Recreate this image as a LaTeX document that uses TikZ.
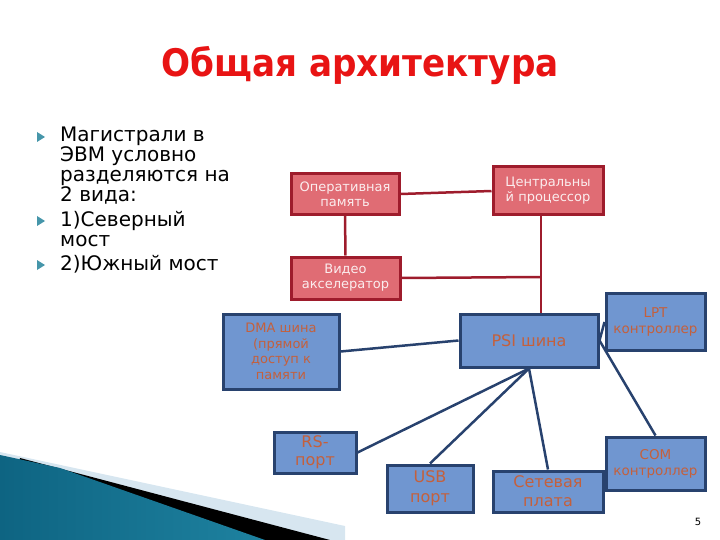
\documentclass[tikz,border=0pt]{standalone}
\usepackage{fontspec}
\setmainfont{DejaVu Sans}
\newfontfamily\titlefont[FakeStretch=0.9]{DejaVu Sans}
\definecolor{titlered}{RGB}{232,20,20}
\definecolor{redfill}{RGB}{224,108,116}
\definecolor{redline}{RGB}{158,28,44}
\definecolor{bluefill}{RGB}{112,150,208}
\definecolor{blueline}{RGB}{40,66,110}
\definecolor{boxtext}{RGB}{196,96,60}
\definecolor{bullet}{RGB}{70,150,170}
\definecolor{tealdark}{RGB}{14,100,130}
\definecolor{teallight}{RGB}{72,172,202}
\definecolor{tealmid}{RGB}{30,130,160}
\definecolor{palestripe}{RGB}{215,230,240}
\begin{document}
\begin{tikzpicture}[x=1pt,y=-1pt,
  redbox/.style={draw=redline,line width=3pt,fill=redfill,text=white!88!redfill,
    font=\fontsize{13}{15}\selectfont,align=center,inner sep=1pt},
  bluebox/.style={draw=blueline,line width=3pt,fill=bluefill,text=boxtext,
    align=center,inner sep=1pt},
  listtext/.style={anchor=base west,align=left,inner sep=0,font=\fontsize{20}{20}\selectfont},
  redlink/.style={draw=redline,line width=2.5pt},
  bluelink/.style={draw=blueline,line width=2.5pt}]
  \useasboundingbox (0,0) rectangle (720,540);
  % corner decoration
  \fill[palestripe] (0,452) -- (345,526) -- (345,540) -- (0,540) -- cycle;
  \fill[black] (20,458) -- (330,540) -- (0,540) -- cycle;
  \shade[left color=tealdark,middle color=teallight,right color=tealmid]
    (0,455) -- (60,468) -- (265,540) -- (0,540) -- cycle;
  % title and list
  \node[font=\titlefont\bfseries\fontsize{38}{44}\selectfont,text=titlered,anchor=base] (title) at (360,77) {Общая архитектура};
  \foreach \y in {137,221,265}
    \fill[bullet] (37,\y-5) -- (45,\y) -- (37,\y+5) -- cycle;
  \node[listtext] (item1) at (60,201.7) {Магистрали в\\ЭВМ условно\\разделяются на\\2 вида:};
  \node[listtext] (item2) at (60,246.7) {1)Северный\\мост};
  \node[listtext] (item3) at (60,270.7) {2)Южный мост};
  % north bridge
  \node[redbox,minimum width=108pt,minimum height=41pt] (ram) at (345,194) {Оперативная\\память};
  \node[redbox,minimum width=110pt,minimum height=48pt] (cpu) at (548,191) {Центральны\\й процессор};
  \node[redbox,minimum width=109pt,minimum height=42pt] (video) at (345.5,278) {Видео\\акселератор};
  \coordinate (bus) at (541,277);
  % south bridge
  \node[bluebox,minimum width=116pt,minimum height=75pt,font=\fontsize{13}{15.5}\selectfont] (dma) at (281,351.5)
    {DMA шина\\(прямой\\доступ к\\памяти};
  \node[bluebox,minimum width=138pt,minimum height=53pt,font=\fontsize{16}{19}\selectfont] (psi) at (529,340.5) {PSI шина};
  \node[bluebox,minimum width=99pt,minimum height=57pt,font=\fontsize{13.5}{16}\selectfont] (lpt) at (655.5,322) {LPT\\контроллер};
  \node[bluebox,minimum width=99pt,minimum height=53pt,font=\fontsize{13.5}{16}\selectfont] (com) at (655.5,463.5) {COM\\контроллер};
  \node[bluebox,minimum width=82pt,minimum height=41pt,font=\fontsize{16}{18}\selectfont] (rs) at (315,452.5) {RS-\\порт};
  \node[bluebox,minimum width=86pt,minimum height=47pt,font=\fontsize{16}{20}\selectfont] (usb) at (430,488.5) {USB\\порт};
  \node[bluebox,minimum width=110pt,minimum height=41pt,font=\fontsize{16}{19}\selectfont] (net) at (548,491.5) {Сетевая\\плата};
  % links
  \draw[redlink] (ram.east) -- (cpu.west);
  \draw[redlink] (ram.south) -- (video.north);
  \draw[redlink] (cpu.south -| bus) -- (psi.north -| bus);
  \draw[redlink] (video.east) -- (bus);
  \draw[bluelink] (dma.east) -- (psi.west);
  \draw[bluelink] (psi.south) -- (rs.east);
  \draw[bluelink] (psi.south) -- (usb.north);
  \draw[bluelink] (psi.south) -- (net.north);
  \draw[bluelink] (psi.east) -- (lpt.west);
  \draw[bluelink] (psi.east) -- (com.north);
  \node[font=\fontsize{10}{12}\selectfont] (page) at (698,522) {5};
\end{tikzpicture}
\end{document}
